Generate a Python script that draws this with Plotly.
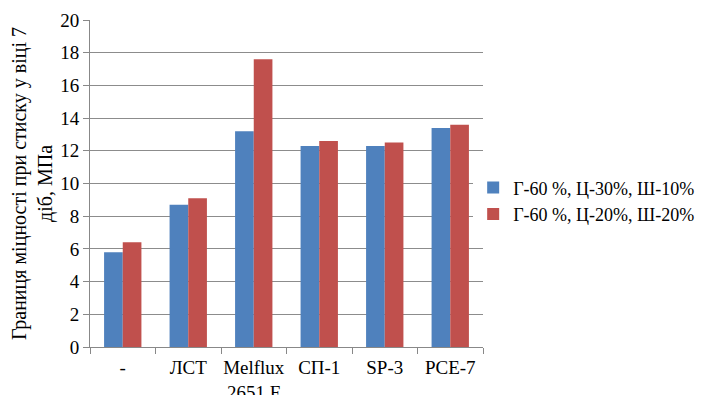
import plotly.graph_objects as go

categories = ["-", "ЛСТ", "Melflux<br>2651 F", "СП-1", "SP-3", "PCE-7"]
series1_name = "Г-60 %, Ц-30%, Ш-10%"
series1 = [5.8, 8.7, 13.2, 12.3, 12.3, 13.4]
series2_name = "Г-60 %, Ц-20%, Ш-20%"
series2 = [6.4, 9.1, 17.6, 12.6, 12.5, 13.6]
y_ticks = [0, 2, 4, 6, 8, 10, 12, 14, 16, 18, 20]

font_family = "Times New Roman"

fig = go.Figure()
fig.add_trace(go.Bar(x=categories, y=series1, name=series1_name, marker_color="#4F81BD", marker_line_width=0))
fig.add_trace(go.Bar(x=categories, y=series2, name=series2_name, marker_color="#C0504D", marker_line_width=0))

# page body has an 8px margin, so the figure is 8px smaller than the window
fig.update_layout(
    width=703, height=387,
    margin=dict(l=82, r=228, t=12, b=48, autoexpand=False),
    paper_bgcolor="white", plot_bgcolor="white",
    barmode="group", bargap=0.43, bargroupgap=0,
    font=dict(family=font_family, size=19, color="#000000"),
    legend=dict(x=0.975, y=0.447, xanchor="left", yanchor="middle",
                font=dict(family=font_family, size=18), itemwidth=30,
                tracegroupgap=0),
    xaxis=dict(showline=True, linecolor="#888888", linewidth=1, automargin=False,
               ticks="outside", tickson="boundaries", ticklen=6, tickcolor="#888888",
               ticklabelstandoff=3, tickangle=0,
               tickfont=dict(family=font_family, size=19), showgrid=False),
    yaxis=dict(range=[0, 20], tickvals=y_ticks, showline=True, linecolor="#888888", linewidth=1,
               automargin=False,
               ticks="outside", ticklen=6, tickcolor="#888888",
               showgrid=True, gridcolor="#8c8c8c", gridwidth=1, zeroline=False,
               tickfont=dict(family=font_family, size=19),
               title=dict(text="Границя міцності при стиску у віці 7<br>діб, МПа",
                          font=dict(family=font_family, size=20), standoff=6)),
)

fig.write_html("out.html")
